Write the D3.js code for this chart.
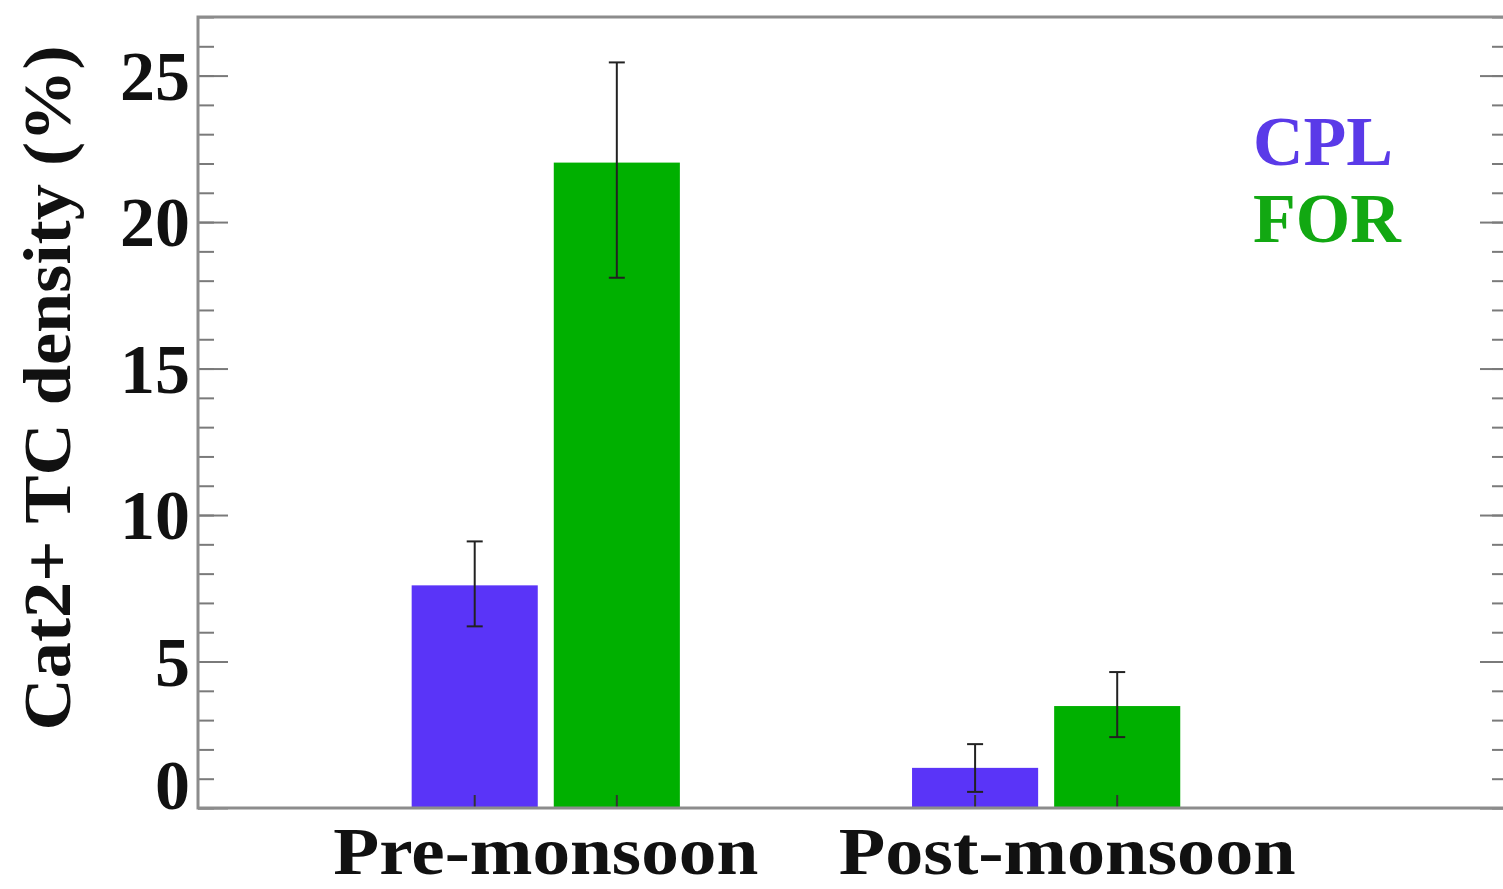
<!DOCTYPE html>
<html lang="en">
<head>
    <meta charset="UTF-8">
    <title>Cat2+ TC density</title>
    <script src="https://cdn.jsdelivr.net/npm/d3@7"></script>
    <style>
        html, body { margin: 0; padding: 0; background: #fff; }
        svg { display: block; }
        text { font-family: "Liberation Serif", "Times New Roman", serif; font-weight: bold; }
    </style>
</head>
<body>
    <svg id="chart" width="1503" height="889"></svg>

    <script type="text/javascript">
    "use strict";

    // values
    var categories = ["Pre-monsoon", "Post-monsoon"];
    var seriesNames = ["CPL", "FOR"];
    var seriesColors = ["#5a34f8", "#00b000"];
    var legendColors = ["#5a3ae8", "#12a812"];

    var cplValues = [7.6, 1.37];
    var cplErrLow = [6.2, 0.55];
    var cplErrHigh = [9.1, 2.18];

    var forValues = [22.03, 3.48];
    var forErrLow = [18.1, 2.42];
    var forErrHigh = [25.45, 4.64];

    var yMajorTicks = [0, 5, 10, 15, 20, 25];
    var yMinorTicks = d3.range(0, 28, 1);

    var svg = d3.select("#chart");

    var frame = { left: 198, right: 1509, top: 17, bottom: 808 };

    var x = d3.scaleLinear().domain([-0.695, 1.925]).range([frame.left, frame.right]);
    var y = d3.scaleLinear().domain([0, 27]).range([frame.bottom, frame.top]);

    // bar offset and width in category units
    var barOffset = 0.142;
    var barWidth = 0.252;

    var bars = [];
    categories.forEach(function (cat, i) {
        bars.push({ cat: i, s: 0, v: cplValues[i], lo: cplErrLow[i], hi: cplErrHigh[i] });
        bars.push({ cat: i, s: 1, v: forValues[i], lo: forErrLow[i], hi: forErrHigh[i] });
    });
    function barCenter(d) {
        return x(d.cat + (d.s === 0 ? -barOffset : barOffset));
    }

    var plot = svg.append("g");

    plot.selectAll("rect.bar").data(bars).enter().append("rect")
        .attr("class", "bar")
        .attr("x", function (d) { return barCenter(d) - (x(barWidth) - x(0)) / 2; })
        .attr("width", x(barWidth) - x(0))
        .attr("y", function (d) { return y(d.v); })
        .attr("height", function (d) { return y(0) - y(d.v); })
        .attr("fill", function (d) { return seriesColors[d.s]; });

    // error bars
    var err = plot.selectAll("g.err").data(bars).enter().append("g")
        .attr("class", "err")
        .attr("stroke", "#222")
        .attr("stroke-width", 2);
    err.append("line")
        .attr("x1", barCenter).attr("x2", barCenter)
        .attr("y1", function (d) { return y(d.lo); })
        .attr("y2", function (d) { return y(d.hi); });
    err.append("line")
        .attr("x1", function (d) { return barCenter(d) - 8; })
        .attr("x2", function (d) { return barCenter(d) + 8; })
        .attr("y1", function (d) { return y(d.hi); })
        .attr("y2", function (d) { return y(d.hi); });
    err.append("line")
        .attr("x1", function (d) { return barCenter(d) - 8; })
        .attr("x2", function (d) { return barCenter(d) + 8; })
        .attr("y1", function (d) { return y(d.lo); })
        .attr("y2", function (d) { return y(d.lo); });

    // small ticks on the bottom axis under each bar
    plot.selectAll("line.xtick").data(bars).enter().append("line")
        .attr("class", "xtick")
        .attr("x1", barCenter).attr("x2", barCenter)
        .attr("y1", y(0)).attr("y2", y(0) - 13)
        .attr("stroke", "#333")
        .attr("stroke-width", 2);

    // y axes, ticks pointing inward
    var leftMinor = svg.append("g")
        .attr("transform", "translate(" + frame.left + ",0)")
        .call(d3.axisLeft(y).tickValues(yMinorTicks).tickSizeInner(-16).tickSizeOuter(0).tickFormat(""));
    var leftMajor = svg.append("g")
        .attr("transform", "translate(" + frame.left + ",0)")
        .call(d3.axisLeft(y).tickValues(yMajorTicks).tickSizeInner(-30).tickSizeOuter(0).tickPadding(8));
    var rightMinor = svg.append("g")
        .attr("transform", "translate(" + frame.right + ",0)")
        .call(d3.axisRight(y).tickValues(yMinorTicks).tickSizeInner(-17).tickSizeOuter(0).tickFormat(""));
    var rightMajor = svg.append("g")
        .attr("transform", "translate(" + frame.right + ",0)")
        .call(d3.axisRight(y).tickValues(yMajorTicks).tickSizeInner(-29).tickSizeOuter(0).tickFormat(""));

    [leftMinor, leftMajor, rightMinor, rightMajor].forEach(function (g) {
        g.select(".domain").remove();
        g.selectAll(".tick line").attr("stroke", "#7a7a7a").attr("stroke-width", 2);
    });

    leftMajor.selectAll(".tick text")
        .attr("font-family", "Liberation Serif, serif")
        .attr("font-weight", "bold")
        .attr("font-size", 70)
        .attr("fill", "#111")
        .attr("dy", function (d) { return d === 0 ? "0.0em" : "0.34em"; });

    // frame
    svg.append("rect")
        .attr("x", frame.left).attr("y", frame.top)
        .attr("width", frame.right - frame.left)
        .attr("height", frame.bottom - frame.top)
        .attr("fill", "none")
        .attr("stroke", "#8c8c8c")
        .attr("stroke-width", 3);

    // category labels
    var labelShift = [0, 21];
    svg.selectAll("text.cat").data(categories).enter().append("text")
        .attr("class", "cat")
        .attr("x", function (d, i) { return x(i) + labelShift[i]; })
        .attr("y", 874)
        .attr("text-anchor", "middle")
        .attr("font-size", 67)
        .attr("fill", "#111")
        .attr("textLength", function (d, i) { return i === 0 ? 425 : 457; })
        .attr("lengthAdjust", "spacingAndGlyphs")
        .text(function (d) { return d; });

    // y axis title
    svg.append("text")
        .attr("transform", "translate(70,388) rotate(-90)")
        .attr("text-anchor", "middle")
        .attr("font-size", 68)
        .attr("fill", "#111")
        .attr("textLength", 685)
        .attr("lengthAdjust", "spacingAndGlyphs")
        .text("Cat2+ TC density (%)");

    // legend
    svg.selectAll("text.legend").data(seriesNames).enter().append("text")
        .attr("class", "legend")
        .attr("x", 1253)
        .attr("y", function (d, i) { return 165 + i * 77; })
        .attr("font-size", 70)
        .attr("fill", function (d, i) { return legendColors[i]; })
        .text(function (d) { return d; });
    </script>
</body>
</html>
